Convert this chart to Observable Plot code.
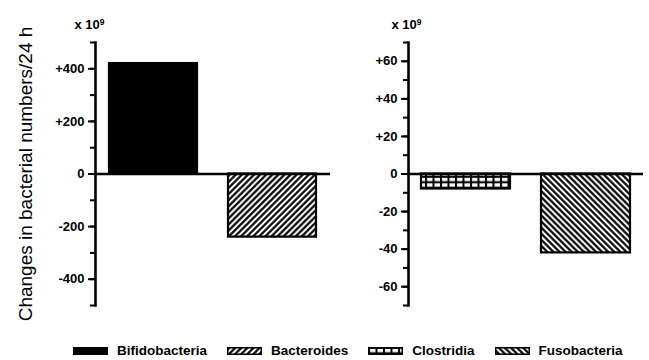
<!DOCTYPE html>
<html>
<head>
<meta charset="utf-8">
<script src="https://cdn.jsdelivr.net/npm/d3@7"></script>
<script src="https://cdn.jsdelivr.net/npm/@observablehq/plot@0.6"></script>
<style>
  body { margin: 0; background: #fff; font-family: "Liberation Sans", Arial, Helvetica, sans-serif; }
  #wrap { position: relative; width: 649px; height: 360px; overflow: hidden; background: #fff; }
  #left { position: absolute; left: 0; top: 0; }
  #right { position: absolute; left: 335px; top: 0; }
  #legend { position: absolute; left: 73px; top: 342px; height: 17px; display: flex; align-items: center; gap: 20px;
            font-weight: bold; font-size: 13.5px; color: #000; }
  #legend .item { display: flex; align-items: center; gap: 9px; }
  #legend svg { display: block; }
</style>
</head>
<body>
<svg width="0" height="0" style="position:absolute">
  <defs>
    <pattern id="pBac" width="4.3" height="4.3" patternUnits="userSpaceOnUse" patternTransform="rotate(45)">
      <rect width="4.3" height="4.3" fill="white"/>
      <line x1="2.15" y1="-1" x2="2.15" y2="5.3" stroke="black" stroke-width="2.2"/>
    </pattern>
    <pattern id="pFus" width="4.3" height="4.3" patternUnits="userSpaceOnUse" patternTransform="rotate(-45)">
      <rect width="4.3" height="4.3" fill="white"/>
      <line x1="2.15" y1="-1" x2="2.15" y2="5.3" stroke="black" stroke-width="2.2"/>
    </pattern>
    <pattern id="pClo" width="7.5" height="5.5" patternUnits="userSpaceOnUse">
      <rect width="7.5" height="5.5" fill="black"/>
      <rect x="2" y="1.8" width="5.5" height="3.4" fill="white"/>
    </pattern>
  </defs>
</svg>
<div id="wrap">
  <div id="left"></div>
  <div id="right"></div>
  <div id="legend"></div>
</div>
<script>
// ---- data ----
const leftCategories = ["Bifidobacteria", "Bacteroides"];
const leftValues = [420, -240];
const rightCategories = ["Clostridia", "Fusobacteria"];
const rightValues = [-8, -42];
const leftMajorTicks = [-400, -200, 0, 200, 400];
const leftMinorTicks = [-500, -400, -300, -200, -100, 0, 100, 200, 300, 400, 500];
const rightMajorTicks = [-60, -40, -20, 0, 20, 40, 60];
const rightMinorTicks = [-70, -60, -50, -40, -30, -20, -10, 0, 10, 20, 30, 40, 50, 60, 70];
const yTitle = "Changes in bacterial numbers/24 h";
const scaleNoteBase = "x 10";
const scaleNoteExp = "9";

// ---- styling ----
const allCategories = [...leftCategories, ...rightCategories];
const fills = ["black", "url(#pBac)", "url(#pClo)", "url(#pFus)"];
const fontFamily = '"Liberation Sans", Arial, Helvetica, sans-serif';
const fmt = d => d > 0 ? "+" + d : String(d);

function panel({cats, vals, width, marginLeft, marginRight, domain, major, minor, padIn, padOut, noteDx, title}) {
  const rows = cats.map((c, i) => ({category: c, value: vals[i]}));
  const svg = Plot.plot({
    width, height: 320,
    marginTop: 42, marginBottom: 15, marginLeft, marginRight,
    style: {fontFamily, fontSize: "13px", fontWeight: "bold", color: "black", background: "transparent", overflow: "visible"},
    x: {domain: cats, axis: null, paddingInner: padIn, paddingOuter: padOut},
    y: {domain, label: null},
    color: {domain: allCategories, range: fills},
    marks: [
      Plot.barY(rows, {x: "category", y: "value", fill: "category", stroke: "black", strokeWidth: 2.2}),
      Plot.ruleY([0], {stroke: "black", strokeWidth: 2.4}),
      Plot.frame({anchor: "left", stroke: "black", strokeWidth: 2.6}),
      Plot.axisY(minor, {tickSize: 5, tickFormat: () => "", strokeWidth: 2, strokeOpacity: 1, label: null}),
      Plot.axisY(major, {tickSize: 7, tickPadding: 4, tickFormat: fmt, strokeWidth: 2, strokeOpacity: 1, label: null,
                         fontWeight: "bold", fontSize: 13}),
      Plot.text([scaleNoteBase], {frameAnchor: "top-left", dx: noteDx, dy: -14, textAnchor: "start",
                              lineAnchor: "bottom", fontWeight: "bold", fontSize: 13, className: "scalenote"}),
      title ? Plot.text([title], {frameAnchor: "left", rotate: -90, dx: -70, textAnchor: "middle",
                                  fontSize: 19, fontWeight: "normal"}) : null
    ]
  });
  // append the exponent as a superscript tspan
  d3.select(svg).selectAll("g.scalenote text").append("tspan")
    .attr("dy", "-0.45em").attr("font-size", 8.5).text(scaleNoteExp);
  return svg;
}

document.getElementById("left").append(panel({
  cats: leftCategories, vals: leftValues, width: 335, marginLeft: 95, marginRight: 5,
  domain: [-500, 500], major: leftMajorTicks, minor: leftMinorTicks,
  padIn: 0.26, padOut: 0.11, noteDx: -21, title: yTitle
}));
document.getElementById("right").append(panel({
  cats: rightCategories, vals: rightValues, width: 314, marginLeft: 73, marginRight: 6,
  domain: [-70, 70], major: rightMajorTicks, minor: rightMinorTicks,
  padIn: 0.26, padOut: 0.105, noteDx: -17, title: null
}));

// ---- legend ----
const legend = d3.select("#legend");
allCategories.forEach((c, i) => {
  const item = legend.append("div").attr("class", "item");
  const s = item.append("svg").attr("width", 35).attr("height", 8);
  s.append("rect").attr("x", 0.75).attr("y", 0.75).attr("width", 33.5).attr("height", 6.5)
    .attr("fill", fills[i]).attr("stroke", "black").attr("stroke-width", 1.5);
  item.append("span").text(c);
});
</script>
</body>
</html>
